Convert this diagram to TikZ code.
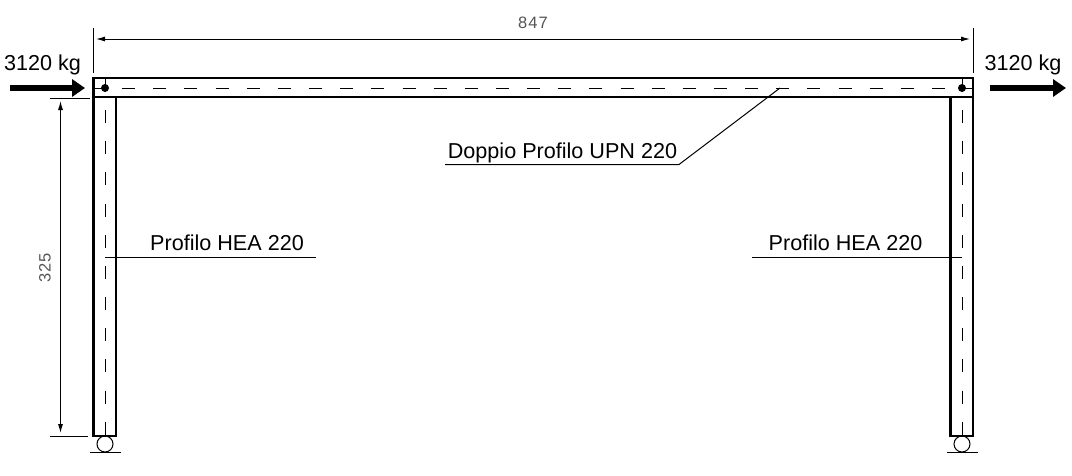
\documentclass[tikz,border=0pt]{standalone}
\usepackage{fontspec}
\setmainfont{Liberation Sans}
\newfontfamily\dimfont[LetterSpace=6]{Liberation Sans}
\usepackage{xcolor}
\usetikzlibrary{arrows.meta, positioning, calc}
\definecolor{dim-gray}{HTML}{555555}
\tikzset{
    member/.style={line width=2.4pt, draw=black},
    axisline/.style={line width=1pt, dash pattern=on 13pt off 18.15pt},
    thinline/.style={line width=1pt},
    dimline/.style={line width=1pt, {Latex[length=9pt,width=5pt]}-{Latex[length=9pt,width=5pt]}, shorten <=3pt, shorten >=3pt},
    loadarrow/.style={line width=6pt, -{Triangle[length=13pt,width=17pt]}},
    label/.style={font=\fontsize{21.6}{24}\selectfont, inner sep=0pt, anchor=base},
    dimlabel/.style={font=\dimfont\fontsize{16.5}{18}\selectfont, text=dim-gray, inner sep=0pt}
}

\begin{document}
\begin{tikzpicture}[x=1pt, y=-1pt]
    \useasboundingbox (0,0) rectangle (1072,475);

    % Columns, hinges and rollers
    \foreach \name/\xc in {L/105, R/962} {
        \draw[member] (\xc-11.5,97) rectangle (\xc+11,436);
        \draw[axisline] (\xc,79) -- (\xc,437);
        \fill (\xc,88) circle (4);
        \node[draw, circle, thinline, minimum size=16pt, inner sep=0pt] (roller\name) at (\xc,444) {};
        \draw[thinline] (\xc-15,452) -- (\xc+15.5,452);
    }

    % Beam
    \draw[member] (93.5,78) rectangle (973,97);
    \draw[axisline, dash phase=3pt] (94,88) -- (973,88);

    % Dimensions
    \coordinate (topL) at (93,39);
    \coordinate (topR) at (973,39);
    \coordinate (sideT) at (60.5,98);
    \coordinate (sideB) at (60.5,436);
    \draw[thinline] (93,28) -- (93,73);
    \draw[thinline] (973,28) -- (973,73);
    \draw[thinline] (50,98) -- (90,98);
    \draw[thinline] (50,436) -- (88,436);
    \draw[dimline] (topL) -- (topR);
    \draw[dimline] (sideT) -- (sideB);
    \node[dimlabel] (width) at (533,23) {847};
    \node[dimlabel, rotate=90] (height) at (45,268) {325};

    % Loads
    \coordinate (loadLa) at (10,88);
    \coordinate (loadLb) at (85,88);
    \coordinate (loadRa) at (990,88);
    \coordinate (loadRb) at (1066,88);
    \draw[loadarrow] (loadLa) -- (loadLb);
    \draw[loadarrow] (loadRa) -- (loadRb);
    \node[label] (loadL) at (42.5,70) {3120 kg};
    \node[label] (loadR) at (1023,70) {3120 kg};

    % Leaders
    \node[label] (upn) at (562.5,158) {Doppio Profilo UPN 220};
    \node[label] (heaL) at (227,250) {Profilo HEA 220};
    \node[label] (heaR) at (845.5,250) {Profilo HEA 220};
    \coordinate (upnA) at (445,164.5);
    \coordinate (upnB) at (679,164.5);
    \coordinate (upnC) at (780,88);
    \draw[thinline] (upnA) -- (upnB) -- (upnC);
    \coordinate (heaLa) at (105,257);
    \coordinate (heaLb) at (316,257);
    \coordinate (heaRa) at (752,257);
    \coordinate (heaRb) at (962,257);
    \draw[thinline] (heaLa) -- (heaLb);
    \draw[thinline] (heaRa) -- (heaRb);
\end{tikzpicture}
\end{document}
